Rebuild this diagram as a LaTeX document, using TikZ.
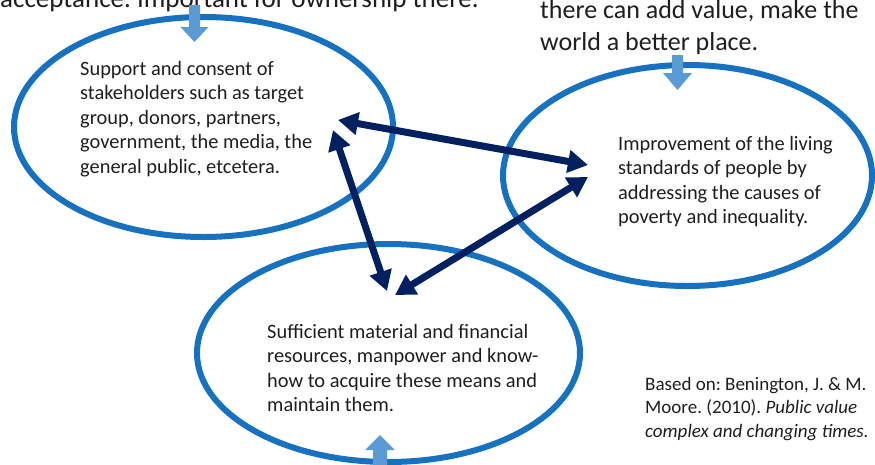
\documentclass[tikz,border=0pt]{standalone}
\usepackage{fontspec}
\setmainfont{Carlito}
\frenchspacing
\usetikzlibrary{arrows.meta,shapes.geometric}

\definecolor{ringblue}{RGB}{22,114,192}
\definecolor{flowblue}{RGB}{91,155,213}
\definecolor{navy}{RGB}{0,32,96}
\definecolor{ink}{RGB}{30,30,30}

\begin{document}
\begin{tikzpicture}[x=1pt,y=-1pt,
  ring/.style={draw=ringblue, line width=6pt, ellipse, inner sep=0pt},
  body/.style={anchor=north west, inner sep=0pt, align=left, text=ink,
    font=\fontsize{20.4}{24.5}\selectfont},
  headline/.style={body, font=\fontsize{26}{32}\selectfont},
  source/.style={body, font=\fontsize{19}{23.5}\selectfont},
  link/.style={draw=navy, line width=7pt,
    {Triangle[length=20pt,width=22pt]}-{Triangle[length=20pt,width=22pt]}},
  flow/.style={fill=flowblue}]

\useasboundingbox (0,0) rectangle (875,464);
\clip (0,0) rectangle (875,464);

% the three circles of the triangle
\node[ring, minimum width=379pt, minimum height=220pt] (legit) at (203.5,127) {};
\node[ring, minimum width=369pt, minimum height=221pt] (value) at (687.5,175.5) {};
\node[ring, minimum width=383pt, minimum height=218pt] (means) at (388.5,353) {};

% texts inside the circles
\node[body] (legit-text) at (80,57.85)
  {\strut Support and consent of\\stakeholders such as target\\group, donors, partners,\\government, the media, the\\general public, etcetera.};
\node[body] (value-text) at (618,132.85)
  {\strut Improvement of the living\\standards of people by\\addressing the causes of\\poverty and inequality.};
\node[body] (means-text) at (267,320.85)
  {\strut Sufficient material and financial\\resources, manpower and know-\\how to acquire these means and\\maintain them.};

% headings above the circles
\node[headline, font=\fontsize{27}{33}\selectfont] (legit-head) at (0,-16.1)
  {\strut acceptance. Important for ownership there.};
\node[headline] (value-head) at (540,-4.4)
  {\strut there can add value, make the\\world a better place.};

% source reference
\node[source] (cite) at (645,373.55)
  {\strut Based on: Benington, J. \& M.\\Moore. (2010). \textit{Public value}\\\textit{complex and changing times.}};

% block arrows entering the circles
\fill[flow] (189,5) -- (200,5) -- (200,27) -- (208.5,27) -- (194.5,42)
  -- (180.5,27) -- (189,27) -- cycle;
\fill[flow] (672,55) -- (683,55) -- (683,73) -- (692,73) -- (677.5,90)
  -- (663,73) -- (672,73) -- cycle;
\fill[flow] (373,470) -- (387,470) -- (387,450) -- (395,450) -- (380,435)
  -- (365,450) -- (373,450) -- cycle;

% ends of the two-way connectors
\coordinate (legit-r) at (338,120);
\coordinate (legit-b) at (333,130);
\coordinate (value-u) at (588,165);
\coordinate (value-l) at (588,177);
\coordinate (means-l) at (387,291);
\coordinate (means-r) at (395,295);

\draw[link] (legit-r) -- (value-u);
\draw[link] (legit-b) -- (means-l);
\draw[link] (value-l) -- (means-r);

\end{tikzpicture}
\end{document}
